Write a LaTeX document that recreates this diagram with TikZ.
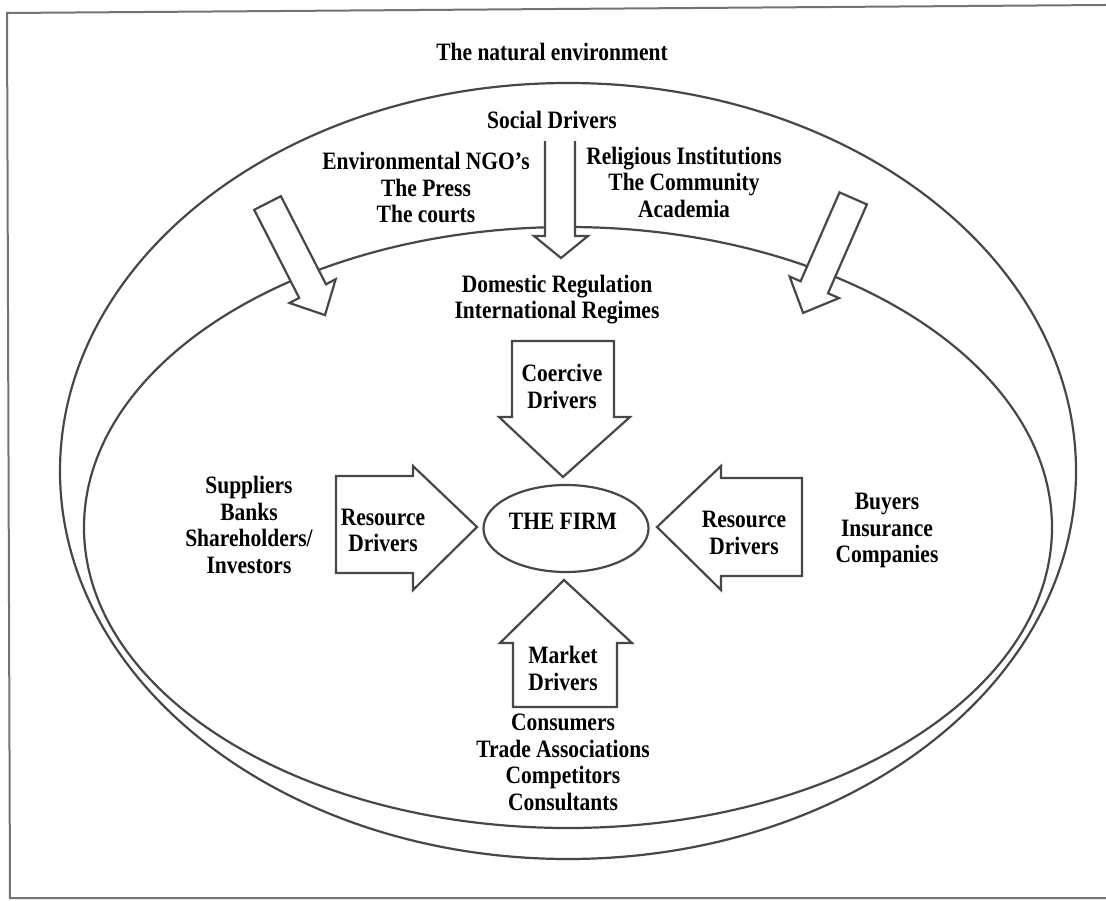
\documentclass[tikz,border=0pt]{standalone}
\usepackage{fontspec}
\setmainfont{Liberation Serif}[FakeStretch=0.86]
\usetikzlibrary{shapes.geometric}
\tikzset{
  ring/.style={draw=black!72, line width=2.2pt},
  frame/.style={draw=black!55, line width=2pt},
  blockarrow/.style={draw=black!72, line width=2.2pt, fill=white, line join=miter},
  lbl/.style={align=center, font=\fontsize{25}{26.5}\selectfont\bfseries, inner sep=0pt, text=black},
}
\begin{document}
\begin{tikzpicture}[x=1pt,y=-1pt]
\fill[white] (0,0) rectangle (1106,901);
\useasboundingbox (0,0) rectangle (1106,901);
% frame
\coordinate (fTR) at (1106,5);
\coordinate (fTL) at (7,13);
\coordinate (fBL) at (10,898);
\coordinate (fBR) at (1106,898);
\draw[frame] (fTR) -- (fTL) -- (fBL) -- (fBR);
% environment rings
\draw[ring] (568,471) ellipse [x radius=508pt, y radius=388pt];
\draw[ring] (568,527.5) ellipse [x radius=484pt, y radius=300.5pt];
% slanted social arrows
\draw[blockarrow] (254.2,209.8) -- (280.9,196.2) -- (326.0,284.3) -- (335.7,279.2) -- (325.0,315.1) -- (289.5,303.0) -- (299.2,297.9) -- cycle;
\draw[blockarrow] (839.5,192.4) -- (866.9,204.4) -- (828.0,293.3) -- (839.0,298.1) -- (803.1,312.9) -- (789.6,276.5) -- (800.6,281.3) -- cycle;
% social drivers arrow
\draw[blockarrow] (545,139) -- (575,139) -- (575,236) -- (588,236) -- (561,258) -- (534,236) -- (545,236) -- cycle;
% coercive arrow
\draw[blockarrow] (512,341) -- (614,341) -- (614,417) -- (630,417) -- (563,477) -- (499,417) -- (512,417) -- cycle;
% market arrow
\draw[blockarrow] (513,707) -- (617,707) -- (617,643) -- (632,643) -- (564,580) -- (500,643) -- (513,643) -- cycle;
% resource arrows
\draw[blockarrow] (336,476) -- (413,476) -- (413,466) -- (477,527) -- (413,590) -- (413,573) -- (336,573) -- cycle;
\draw[blockarrow] (802,478) -- (721,478) -- (721,466) -- (657,527) -- (721,590) -- (721,576) -- (802,576) -- cycle;
% the firm
\node[draw=black!72, line width=2.2pt, ellipse, minimum width=165pt, minimum height=87pt, inner sep=0pt] (firm) at (566,528.5) {};
\node[lbl] (firmtxt) at (563,521) {THE FIRM};
% labels
\node[lbl] (nat) at (552,52) {The natural environment};
\node[lbl, fill=white, inner ysep=12pt, inner xsep=3pt] (social) at (552,120) {Social Drivers};
\node[lbl] (ngo) at (426,187.5) {Environmental NGO’s\\The Press\\The courts};
\node[lbl] (relig) at (684,182) {Religious Institutions\\The Community\\Academia};
\node[lbl] (regul) at (557,299.5) {Domestic Regulation\\International Regimes};
\node[lbl] (coerc) at (562,386.5) {Coercive\\Drivers};
\node[lbl] (resL) at (383,530.5) {Resource\\Drivers};
\node[lbl] (resR) at (744,533) {Resource\\Drivers};
\node[lbl] (suppl) at (249,525) {Suppliers\\Banks\\Shareholders/\\Investors};
\node[lbl] (buyers) at (887,530.5) {Buyers\\Insurance\\Companies};
\node[lbl] (market) at (563,668.5) {Market\\Drivers};
\node[lbl] (consum) at (563,762.5) {Consumers\\Trade Associations\\Competitors\\Consultants};
\end{tikzpicture}
\end{document}
